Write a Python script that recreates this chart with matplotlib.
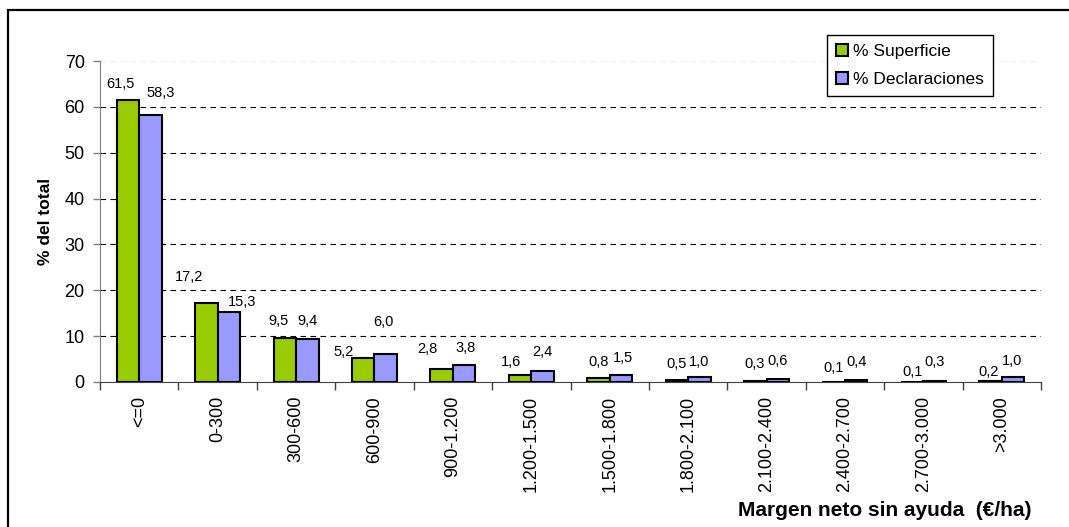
import matplotlib
matplotlib.use('Agg')
import matplotlib.pyplot as plt
from matplotlib.patches import Patch, Rectangle
import numpy as np

plt.rcParams['font.family'] = ['Liberation Sans', 'DejaVu Sans']

# data
categorias = ['<=0', '0-300', '300-600', '600-900', '900-1.200', '1.200-1.500',
              '1.500-1.800', '1.800-2.100', '2.100-2.400', '2.400-2.700',
              '2.700-3.000', '>3.000']
superficie = [61.5, 17.2, 9.5, 5.2, 2.8, 1.6, 0.8, 0.5, 0.3, 0.1, 0.1, 0.2]
declaraciones = [58.3, 15.3, 9.4, 6.0, 3.8, 2.4, 1.5, 1.0, 0.6, 0.4, 0.3, 1.0]
yticks = [0, 10, 20, 30, 40, 50, 60, 70]

# label offsets in pixels (dx, dy) from the top of each bar
off_sup = [(-8, 16), (-17, 26), (-6, 17), (-20, 6), (-14, 20), (-9, 13),
           (0, 16), (0, 16), (-1, 17), (0, 14), (0, 10), (-2, 9)]
off_dec = [(10, 22), (13, 10), (0, 18), (-2, 32), (1, 17), (0, 19),
           (2, 17), (0, 15), (0, 18), (0, 18), (0, 19), (-1, 16)]

VERDE = '#99CC00'
AZUL = '#9999FF'

fig = plt.figure(figsize=(10.69, 5.27), dpi=100)

# frame around the chart area
fig.patches.append(Rectangle((8 / 1069, -0.1), 1.2, 1 - 10 / 527 + 0.1,
                             transform=fig.transFigure, fill=False,
                             edgecolor='black', linewidth=1.6))

ax = fig.add_axes([100 / 1069, 1 - 382 / 527, 941 / 1069, 321 / 527])

x = np.arange(len(categorias))
w = 0.287
b1 = ax.bar(x - w / 2, superficie, w, color=VERDE, edgecolor='black', linewidth=1.5, zorder=3)
b2 = ax.bar(x + w / 2, declaraciones, w, color=AZUL, edgecolor='black', linewidth=1.5, zorder=3)

def fmt(v):
    return ('%.1f' % v).replace('.', ',')

for xi, v, (dx, dy) in zip(x - w / 2, superficie, off_sup):
    ax.annotate(fmt(v), (xi, v), xytext=(dx, dy), textcoords='offset pixels',
                ha='center', va='center', fontsize=10.5)
for xi, v, (dx, dy) in zip(x + w / 2, declaraciones, off_dec):
    ax.annotate(fmt(v), (xi, v), xytext=(dx, dy), textcoords='offset pixels',
                ha='center', va='center', fontsize=10.5)

ax.set_xlim(-0.5, len(categorias) - 0.5)
ax.set_ylim(0, 70)

# gridlines
for t in yticks[1:-1]:
    ax.axhline(t, color='black', linewidth=0.8, linestyle=(0, (5, 4)), zorder=1)
ax.axhline(70, color='#eeeeee', linewidth=0.8, linestyle=(0, (5, 4)), zorder=1)

ax.set_yticks(yticks)
ax.tick_params(axis='y', labelsize=13, length=5, width=1, color='#808080', pad=6)
ax.set_xticks(x)
ax.set_xticklabels(categorias, rotation=90, fontsize=13)
ax.set_xticks(np.arange(len(categorias) + 1) - 0.5, minor=True)
ax.tick_params(axis='x', which='major', length=0, pad=10)
ax.tick_params(axis='x', which='minor', length=6, width=1, color='#404040')

for s in ['top', 'right']:
    ax.spines[s].set_visible(False)
ax.spines['left'].set_color('#808080')
ax.spines['bottom'].set_color('#404040')

ax.set_ylabel('% del total', fontsize=12.5, fontweight='bold', labelpad=8)

fig.text(1032 / 1069, 1 - 510 / 527, 'Margen neto sin ayuda  (€/ha)',
         ha='right', va='center', fontsize=15, fontweight='bold')

handles = [Patch(facecolor=VERDE, edgecolor='black', linewidth=1.5, label='% Superficie'),
           Patch(facecolor=AZUL, edgecolor='black', linewidth=1.5, label='% Declaraciones')]
leg = fig.legend(handles=handles, loc='upper left',
                 bbox_to_anchor=(827 / 1069, 1 - 35 / 527), fontsize=12.5,
                 fancybox=False, framealpha=1, edgecolor='black',
                 handlelength=0.7, handleheight=0.7, handletextpad=0.3,
                 borderpad=0.5, labelspacing=0.75, borderaxespad=0)
leg.get_frame().set_linewidth(1)

fig.savefig('out.png', dpi=100)
